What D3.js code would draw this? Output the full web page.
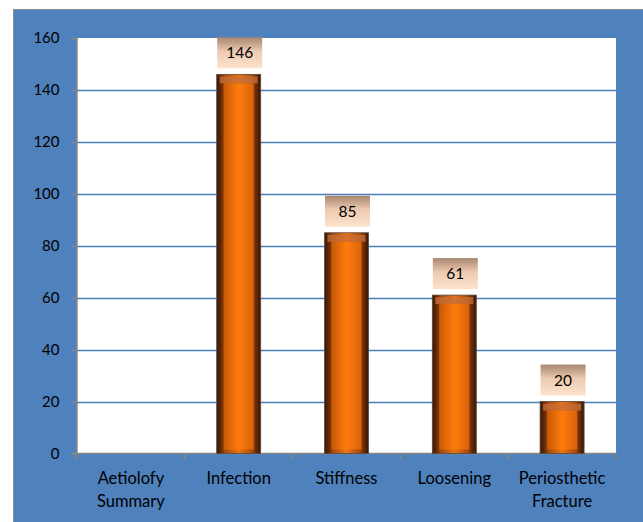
<!DOCTYPE html>
<html><head><meta charset="utf-8">
<script src="https://cdn.jsdelivr.net/npm/d3@7"></script>
<style>html,body{margin:0;padding:0;background:#fff;}svg{display:block;}</style>
</head><body>
<svg id="c" width="643" height="522"></svg>
<script>
const categories = [["Aetiolofy","Summary"],["Infection"],["Stiffness"],["Loosening"],["Periosthetic","Fracture"]];
const values = [null, 146, 85, 61, 20];
const yTicks = [0,20,40,60,80,100,120,140,160];

const svg = d3.select("#c");
const W = 643, H = 522;
const plot = {l:77, r:616, t:38, b:453.5};
const font = "Lato, 'Open Sans', sans-serif";

const defs = svg.append("defs");
const bg = defs.append("linearGradient").attr("id","barH").attr("x1","0").attr("x2","1").attr("y1","0").attr("y2","0");
[[0,"#3a1604"],[0.1,"#652a08"],[0.2,"#a84c0c"],[0.5,"#f07410"],[0.8,"#a84c0c"],[0.9,"#652a08"],[1,"#3a1604"]]
  .forEach(([o,c])=>bg.append("stop").attr("offset",o).attr("stop-color",c));
const fg = defs.append("linearGradient").attr("id","barIn").attr("x1","0").attr("x2","1").attr("y1","0").attr("y2","0");
[[0,"#c85a08"],[0.5,"#ff7c0c"],[1,"#d8620a"]].forEach(([o,c])=>fg.append("stop").attr("offset",o).attr("stop-color",c));
const lb = defs.append("linearGradient").attr("id","lbl").attr("x1","0").attr("x2","0").attr("y1","0").attr("y2","1");
[[0,"#a88670"],[0.45,"#edcab0"],[1,"#fde3cd"]].forEach(([o,c])=>lb.append("stop").attr("offset",o).attr("stop-color",c));

// blue chart area
svg.append("rect").attr("x",13.5).attr("y",9.5).attr("width",W).attr("height",H)
  .attr("fill","#4f81bd").attr("stroke","#8c8c8c").attr("stroke-width",1);
// plot area
svg.append("rect").attr("x",plot.l).attr("y",plot.t).attr("width",plot.r-plot.l).attr("height",plot.b-plot.t).attr("fill","#fff");

const x = d3.scaleBand().domain(d3.range(categories.length)).range([plot.l, plot.r]).paddingInner(0).paddingOuter(0);
const y = d3.scaleLinear().domain([0,160]).range([plot.b, plot.t]);

// gridlines
svg.append("g").selectAll("line").data(yTicks.filter(d=>d>0 && d<160)).join("line")
  .attr("x1",plot.l).attr("x2",plot.r).attr("y1",d=>Math.round(y(d))+0.5).attr("y2",d=>Math.round(y(d))+0.5)
  .attr("stroke","#4a7ebb").attr("stroke-width",1.3);

// y axis
const ya = svg.append("g").attr("transform",`translate(${plot.l-0.5},0)`)
  .call(d3.axisLeft(y).tickValues(yTicks).tickSize(5).tickPadding(12));
ya.select(".domain").attr("stroke","#868686").attr("stroke-width",1.5);
ya.selectAll(".tick line").attr("stroke","#868686").attr("stroke-width",1.5);
ya.selectAll(".tick text").attr("font-family",font).attr("font-size",15).attr("fill","#000");

// x axis
const xa = svg.append("g").attr("transform",`translate(0,${plot.b})`);
xa.append("line").attr("x1",plot.l-5).attr("x2",plot.r+1).attr("y1",0).attr("y2",0).attr("stroke","#868686").attr("stroke-width",1.5);
xa.selectAll("line.t").data(d3.range(categories.length+1)).join("line").attr("class","t")
  .attr("x1",i=>plot.l + i*x.step()).attr("x2",i=>plot.l + i*x.step()).attr("y1",0).attr("y2",6)
  .attr("stroke","#868686").attr("stroke-width",1.5);
const xl = svg.append("g").selectAll("text").data(categories).join("text")
  .attr("x",(d,i)=>x(i)+x.bandwidth()/2).attr("y",484)
  .attr("text-anchor","middle").attr("font-family",font).attr("font-size",16.5).attr("fill","#000");
xl.each(function(d){
  const t = d3.select(this);
  d.forEach((s,k)=>t.append("tspan").attr("x",t.attr("x")).attr("dy",k?23:0).text(s));
});

// bars
const bw = 44;
const bars = svg.append("g").selectAll("g").data(values.map((v,i)=>({v,i})).filter(d=>d.v!=null)).join("g");
bars.append("rect").attr("x",d=>x(d.i)+x.bandwidth()/2-bw/2).attr("y",d=>y(d.v)).attr("width",bw).attr("height",d=>plot.b-y(d.v))
  .attr("fill","url(#barH)").attr("stroke","#5a4a40").attr("stroke-width",0.8);
bars.append("rect").attr("x",d=>x(d.i)+x.bandwidth()/2-bw/2+7).attr("y",d=>y(d.v)+9).attr("width",bw-14).attr("height",d=>Math.max(0,plot.b-y(d.v)-13))
  .attr("fill","url(#barIn)");
bars.append("rect").attr("x",d=>x(d.i)+x.bandwidth()/2-bw/2+3).attr("y",d=>y(d.v)+2).attr("width",bw-6).attr("height",7)
  .attr("fill","#c8703a").attr("opacity",0.75);

// labels
const lw = 45, lh = 31;
const lbls = svg.append("g").selectAll("g").data(values.map((v,i)=>({v,i})).filter(d=>d.v!=null)).join("g");
lbls.append("rect").attr("x",d=>x(d.i)+x.bandwidth()/2-lw/2+1).attr("y",d=>y(d.v)-6-lh).attr("width",lw).attr("height",lh)
  .attr("fill","url(#lbl)");
lbls.append("text").attr("x",d=>x(d.i)+x.bandwidth()/2+1).attr("y",d=>y(d.v)-6-lh/2+5.5)
  .attr("text-anchor","middle").attr("font-family",font).attr("font-size",15.5).attr("fill","#000").text(d=>d.v);
</script>
</body></html>
